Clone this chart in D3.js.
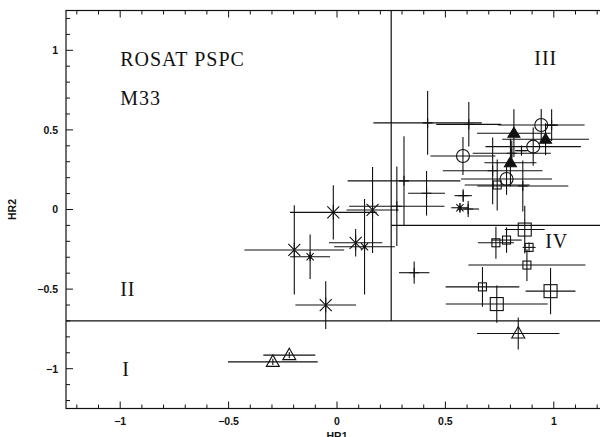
<!DOCTYPE html>
<html>
<head>
<meta charset="utf-8">
<script src="https://cdn.jsdelivr.net/npm/d3@7/dist/d3.min.js"></script>
<style>
  html, body { margin: 0; padding: 0; background: #fff; }
  svg { display: block; }
</style>
</head>
<body>
<script>
// Hardness-ratio diagram of ROSAT PSPC sources in M33
const symbols = [
  "star","star","star","starSmall","star","starSmall","star","starSmall",
  "plus","plus","plus","plus","plus","plus","plus","plus","plus","plus","plus","plus","plus",
  "circle","circle","circle","circle",
  "filledTri","filledTri","filledTri",
  "square","bigSquare","square","square","square","square","square","bigSquare","bigSquare",
  "triangle","triangle","triangle"
];
const hr1 = [
  -0.197, -0.017, 0.164, -0.124, 0.086, 0.127, -0.052, 0.567,
  0.418, 0.608, 0.309, 0.413, 0.582, 0.605, 0.356, 0.851, 0.99, 0.276, 0.857, 0.718, 0.806,
  0.581, 0.942, 0.782, 0.905,
  0.816, 0.962, 0.80,
  0.739, 0.866, 0.733, 0.782, 0.886, 0.876, 0.671, 0.737, 0.985,
  0.836, -0.22, -0.296
];
const hr2 = [
  -0.254, -0.018, -0.003, -0.297, -0.209, -0.234, -0.60, 0.011,
  0.544, 0.535, 0.18, 0.102, 0.087, 0.003, -0.397, 0.37, 0.53, 0.02, 0.148, 0.243, 0.353,
  0.336, 0.531, 0.192, 0.395,
  0.479, 0.441, 0.294,
  0.154, -0.126, -0.209, -0.192, -0.238, -0.349, -0.486, -0.594, -0.513,
  -0.779, -0.915, -0.957
];
const hr1Err = [
  0.23, 0.20, 0.12, 0.092, 0.123, 0.14, 0.14, 0.04,
  0.25, 0.15, 0.26, 0.085, 0.04, 0.05, 0.07, 0.03, 0.03, 0.22, 0.21, 0.23, 0.18,
  0.15, 0.20, 0.21, 0.22,
  0.17, 0.20, 0.12,
  0.15, 0.092, 0.083, 0.07, 0.03, 0.27, 0.17, 0.235, 0.115,
  0.19, 0.12, 0.207
];
const hr2Err = [
  0.28, 0.17, 0.27, 0.14, 0.086, 0.30, 0.15, 0.03,
  0.20, 0.14, 0.28, 0.14, 0.04, 0.05, 0.07, 0.03, 0.10, 0.25, 0.16, 0.21, 0.08,
  0.12, 0.10, 0.10, 0.12,
  0.15, 0.10, 0.15,
  0.16, 0.15, 0.10, 0.08, 0.03, 0.10, 0.125, 0.117, 0.145,
  0.10, 0.02, 0.02
];

// Region dividers: [x1, y1, x2, y2] in HR1/HR2 units
const dividers = [
  [0.25, -0.7, 0.25, 1.25],
  [-1.25, -0.7, 1.25, -0.7],
  [0.25, -0.1, 1.25, -0.1]
];
const regionNames = ["III", "II", "I", "IV"];
const regionAt = [[0.91, 0.95], [-1.0, -0.5], [-0.99, -1.0], [0.96, -0.2]];
const titleLines = ["ROSAT PSPC", "M33"];

const W = 600, H = 437;
const x = d3.scaleLinear().domain([-1.25, 1.25]).range([66, 608]);
const y = d3.scaleLinear().domain([-1.25, 1.25]).range([408.5, 10.5]);

const svg = d3.select("body").append("svg").attr("width", W).attr("height", H);
const ink = "#111";

// frame
svg.append("rect")
  .attr("x", x(-1.25)).attr("y", y(1.25))
  .attr("width", x(1.25) - x(-1.25)).attr("height", y(-1.25) - y(1.25))
  .attr("fill", "none").attr("stroke", ink).attr("stroke-width", 1.2);

// ticks: major every 0.5, minor every 0.1, drawn inward on all sides
const tickVals = d3.range(-12, 13).map(i => i / 10);
const isMajor = v => Math.abs(v * 2 - Math.round(v * 2)) < 1e-6;
const tickFmt = v => (Math.abs(v) < 1e-9 ? "0" : d3.format("")(v).replace("-", "\u2212"));

const ticks = svg.append("g").attr("stroke", ink).attr("stroke-width", 1);
tickVals.forEach(v => {
  const L = isMajor(v) ? 7 : 4;
  ticks.append("line").attr("x1", x(v)).attr("x2", x(v)).attr("y1", y(-1.25)).attr("y2", y(-1.25) - L);
  ticks.append("line").attr("x1", x(v)).attr("x2", x(v)).attr("y1", y(1.25)).attr("y2", y(1.25) + L);
  ticks.append("line").attr("y1", y(v)).attr("y2", y(v)).attr("x1", x(-1.25)).attr("x2", x(-1.25) + L);
  ticks.append("line").attr("y1", y(v)).attr("y2", y(v)).attr("x1", x(1.25)).attr("x2", x(1.25) - L);
});

const labelFont = "'Liberation Sans', Arial, sans-serif";
const majors = [-1, -0.5, 0, 0.5, 1];
svg.append("g").selectAll("text").data(majors).join("text")
  .attr("x", d => x(d)).attr("y", 425)
  .attr("text-anchor", "middle")
  .attr("font-family", labelFont).attr("font-size", 10.5).attr("font-weight", "bold")
  .attr("fill", ink)
  .text(tickFmt);
svg.append("g").selectAll("text").data(majors).join("text")
  .attr("x", 58).attr("y", d => y(d) + 3.8)
  .attr("text-anchor", "end")
  .attr("font-family", labelFont).attr("font-size", 10.5).attr("font-weight", "bold")
  .attr("fill", ink)
  .text(tickFmt);

svg.append("text")
  .attr("x", x(0)).attr("y", 440)
  .attr("text-anchor", "middle")
  .attr("font-family", labelFont).attr("font-size", 10.5).attr("font-weight", "bold")
  .attr("fill", ink).text("HR1");
svg.append("text")
  .attr("transform", `translate(16,${y(0)}) rotate(-90)`)
  .attr("text-anchor", "middle")
  .attr("font-family", labelFont).attr("font-size", 10.5).attr("font-weight", "bold")
  .attr("fill", ink).text("HR2");

// region dividers
svg.append("g").selectAll("line").data(dividers).join("line")
  .attr("x1", d => x(d[0])).attr("y1", d => y(d[1]))
  .attr("x2", d => x(d[2])).attr("y2", d => y(d[3]))
  .attr("stroke", ink).attr("stroke-width", 1.2);

// title and region names
const serif = "'Liberation Serif', 'Times New Roman', serif";
svg.append("g").selectAll("text").data(titleLines).join("text")
  .attr("x", x(-1)).attr("y", (d, i) => 66 + i * 39)
  .attr("font-family", serif).attr("font-size", 20).attr("fill", ink)
  .attr("letter-spacing", 1)
  .text(d => d);
svg.append("g").selectAll("text").data(regionNames).join("text")
  .attr("x", (d, i) => x(regionAt[i][0])).attr("y", (d, i) => y(regionAt[i][1]) + 7)
  .attr("font-family", serif).attr("font-size", 20).attr("fill", ink)
  .attr("letter-spacing", 1)
  .text(d => d);

// sources with error bars
const pts = hr1.map((v, i) => ({ x: v, y: hr2[i], ex: hr1Err[i], ey: hr2Err[i], s: symbols[i] }));
const g = svg.append("g").attr("stroke", ink).attr("stroke-width", 1.1).attr("fill", "none");

pts.forEach(p => {
  g.append("line").attr("x1", x(p.x - p.ex)).attr("x2", x(p.x + p.ex)).attr("y1", y(p.y)).attr("y2", y(p.y));
  g.append("line").attr("x1", x(p.x)).attr("x2", x(p.x)).attr("y1", y(p.y - p.ey)).attr("y2", y(p.y + p.ey));
});

function starX(sel, cx, cy, r) {
  const d = r * 0.8;
  sel.append("path").attr("d",
    `M${cx},${cy - r}L${cx},${cy + r}` +
    `M${cx - d},${cy - d}L${cx + d},${cy + d}` +
    `M${cx - d},${cy + d}L${cx + d},${cy - d}`);
}

pts.forEach(p => {
  const cx = x(p.x), cy = y(p.y);
  switch (p.s) {
    case "star":
      starX(g, cx, cy, 7.5);
      break;
    case "starSmall":
      starX(g, cx, cy, 4.5);
      g.append("circle").attr("cx", cx).attr("cy", cy).attr("r", 1.2).attr("fill", ink);
      break;
    case "plus":
      g.append("path").attr("d", `M${cx - 5},${cy}L${cx + 5},${cy}M${cx},${cy - 5}L${cx},${cy + 5}`);
      break;
    case "circle":
      g.append("circle").attr("cx", cx).attr("cy", cy).attr("r", 6.5);
      break;
    case "square":
      g.append("rect").attr("x", cx - 4).attr("y", cy - 4).attr("width", 8).attr("height", 8);
      break;
    case "bigSquare":
      g.append("rect").attr("x", cx - 6.5).attr("y", cy - 6.5).attr("width", 13).attr("height", 13);
      break;
    case "filledTri":
      g.append("path").attr("d", `M${cx},${cy - 6}L${cx + 6},${cy + 4}L${cx - 6},${cy + 4}Z`).attr("fill", ink);
      break;
    case "triangle":
      g.append("path").attr("d", `M${cx},${cy - 7}L${cx + 6.5},${cy + 4.5}L${cx - 6.5},${cy + 4.5}Z`);
      break;
  }
});
</script>
</body>
</html>
